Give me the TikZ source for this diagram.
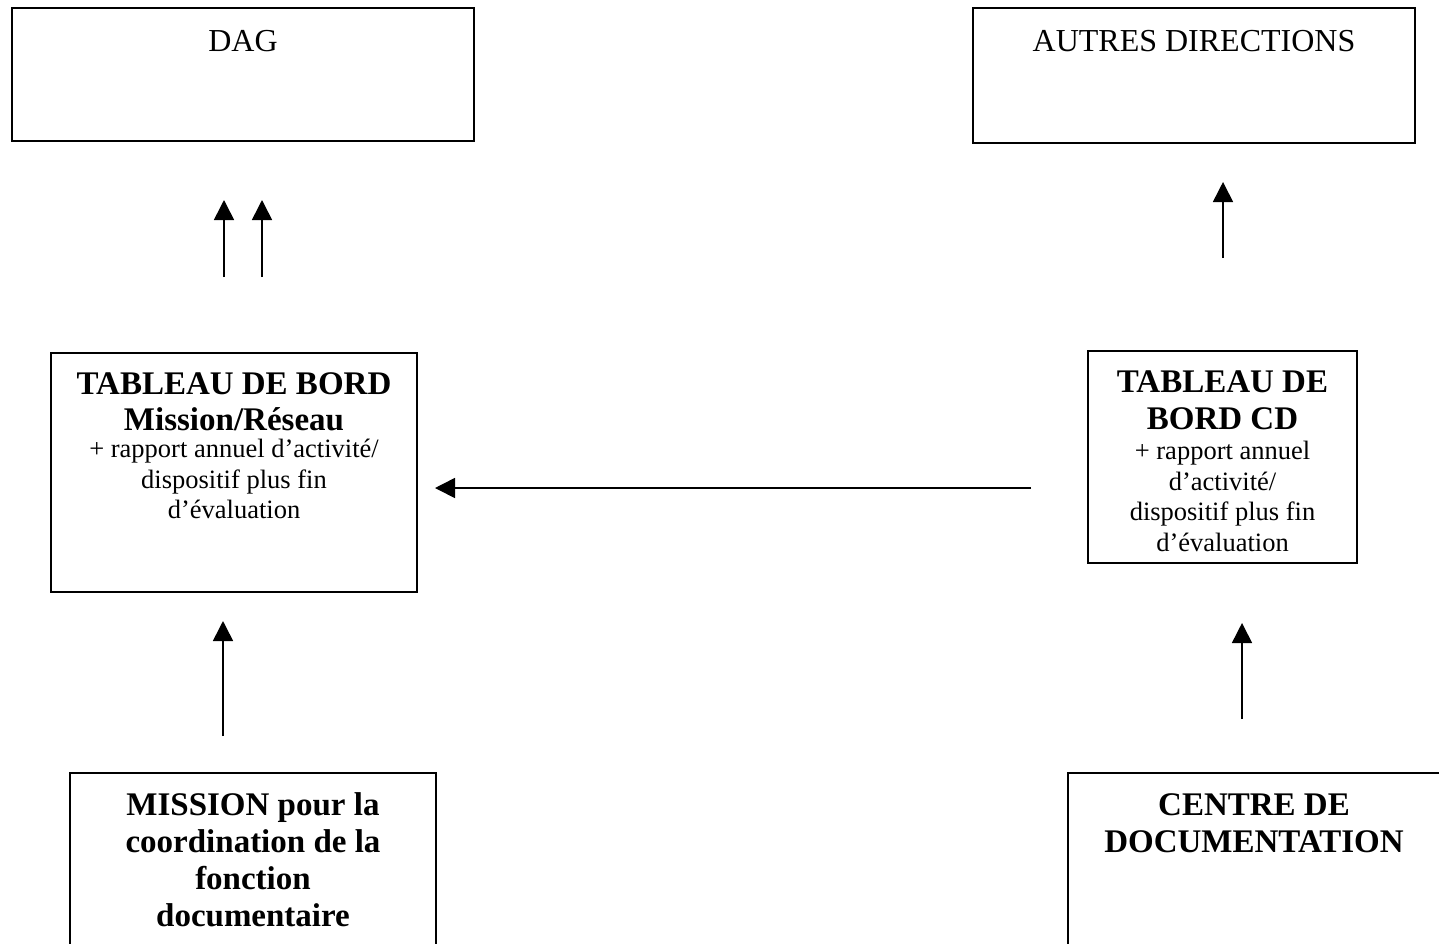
\documentclass[tikz,border=0pt]{standalone}
\usepackage{fontspec}
\setmainfont{Liberation Serif}
\usetikzlibrary{arrows.meta}
\begin{document}
\begin{tikzpicture}[x=0.5pt,y=-0.5pt,
  box/.style={draw, line width=0.9pt, inner sep=0pt},
  big/.style={anchor=base, inner sep=0pt, font=\fontsize{16}{18}\selectfont},
  bigb/.style={anchor=base, inner sep=0pt, font=\fontsize{16.5}{18}\selectfont\bfseries},
  small/.style={anchor=base, inner sep=0pt, font=\fontsize{13.25}{15}\selectfont},
  link/.style={line width=0.8pt, -{Triangle[length=10pt,width=10pt]}}]
\useasboundingbox (0,0) rectangle (1439,943);
\clip (0,0) rectangle (1439,943);
\fill[white] (0,0) rectangle (1439,943);

% boxes
\node[box, minimum width=231pt, minimum height=66.5pt] (dag) at (243,74.5) {};
\node[box, minimum width=221pt, minimum height=67.5pt] (autres) at (1194,75.5) {};
\node[box, minimum width=183pt, minimum height=119.5pt] (tbm) at (234,472.5) {};
\node[box, minimum width=134.5pt, minimum height=106pt] (tbcd) at (1222.5,457) {};
\node[box, minimum width=183pt, minimum height=113.5pt] (mission) at (253,886.5) {};
\node[box, minimum width=186pt, minimum height=113.5pt] (centre) at (1254,886.5) {};

% box texts
\node[big] (dagT) at (243,51) {DAG};
\node[big] (autresT) at (1194,51) {AUTRES DIRECTIONS};

\node[bigb] (tbm1) at (234,394) {TABLEAU DE BORD};
\node[bigb] (tbm2) at (234,430) {Mission/Réseau};
\node[small] (tbm3) at (234,457.5) {+ rapport annuel d’activité/};
\node[small] (tbm4) at (234,488) {dispositif plus fin};
\node[small] (tbm5) at (234,518.5) {d’évaluation};

\node[bigb] (tbcd1) at (1222.5,392) {TABLEAU DE};
\node[bigb] (tbcd2) at (1222.5,429) {BORD CD};
\node[small] (tbcd3) at (1222.5,459.5) {+ rapport annuel};
\node[small] (tbcd4) at (1222.5,490) {d’activité/};
\node[small] (tbcd5) at (1222.5,520.5) {dispositif plus fin};
\node[small] (tbcd6) at (1222.5,551) {d’évaluation};

\node[bigb] (mis1) at (253,815) {MISSION pour la};
\node[bigb] (mis2) at (253,852) {coordination de la};
\node[bigb] (mis3) at (253,889) {fonction};
\node[bigb] (mis4) at (253,926) {documentaire};

\node[bigb] (cen1) at (1254,815) {CENTRE DE};
\node[bigb] (cen2) at (1254,852) {DOCUMENTATION};

% connector ends
\coordinate (m1s) at (224,277); \coordinate (m1e) at (224,200);
\coordinate (m2s) at (262,277); \coordinate (m2e) at (262,200);
\coordinate (c1s) at (1223,258); \coordinate (c1e) at (1223,182);
\coordinate (hs) at (1031,488); \coordinate (he) at (435,488);
\coordinate (m3s) at (223,736); \coordinate (m3e) at (223,621);
\coordinate (c2s) at (1242,719); \coordinate (c2e) at (1242,623);

% connectors
\draw[link] (m1s) -- (m1e);
\draw[link] (m2s) -- (m2e);
\draw[link] (c1s) -- (c1e);
\draw[link] (hs) -- (he);
\draw[link] (m3s) -- (m3e);
\draw[link] (c2s) -- (c2e);
\end{tikzpicture}
\end{document}
